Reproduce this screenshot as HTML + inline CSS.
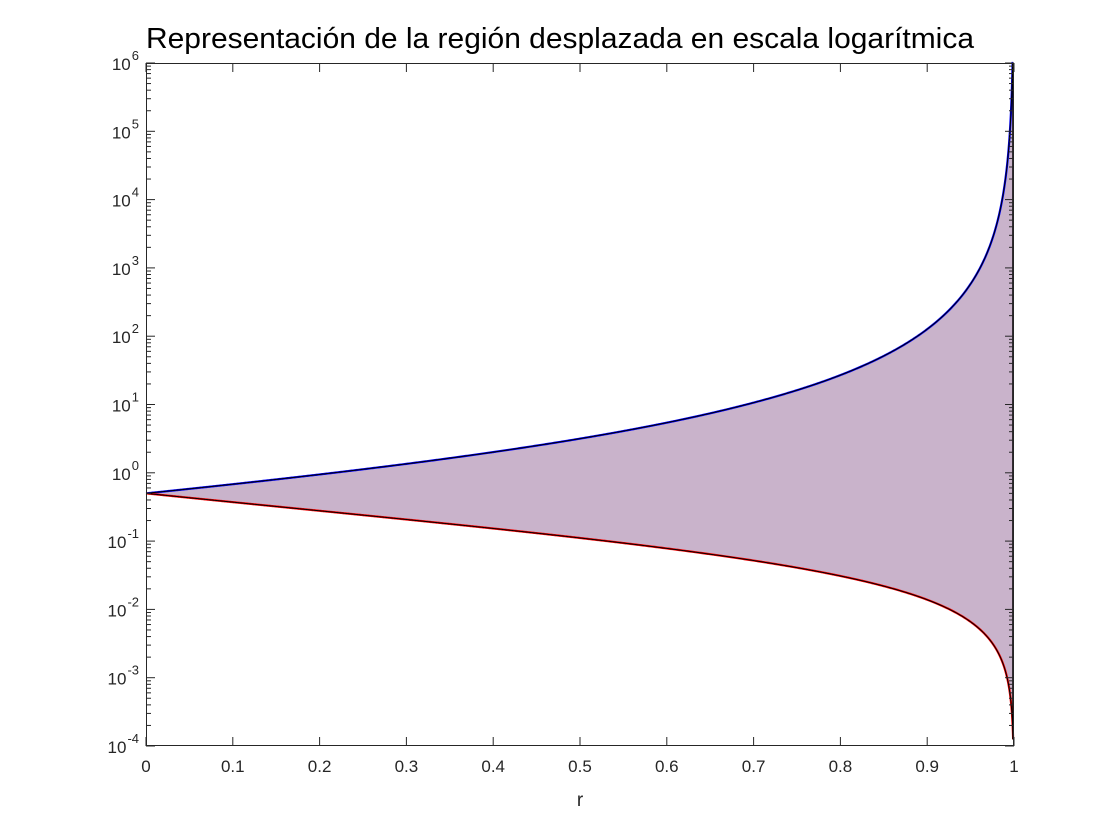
<!DOCTYPE html>
<html><head><meta charset="utf-8"><style>
html,body{margin:0;padding:0;background:#fff;}
svg{display:block;font-family:"Liberation Sans",Arial,sans-serif;}
</style></head><body>
<svg id="s" width="1120" height="840" viewBox="0 0 1120 840" xmlns="http://www.w3.org/2000/svg">
<rect width="1120" height="840" fill="#fff"/>
<text x="146" y="48" font-size="29" fill="#000" textLength="828" lengthAdjust="spacingAndGlyphs">Representación de la región desplazada en escala logarítmica</text>
<g id="plot"></g>
<g id="axes" stroke="#262626" stroke-width="1" fill="none"></g>
<g id="labels" font-size="17" fill="#262626"></g>
<text x="580" y="806" font-size="19" fill="#262626" text-anchor="middle">r</text>
</svg>
<script>
const L=146,R=1014,T=63,B=746;
const X=r=>L+(R-L)*r;
const Y=v=>B-(Math.log10(v)+4)/10*(B-T);
const ns="http://www.w3.org/2000/svg";
function el(t,a,p){const e=document.createElementNS(ns,t);for(const k in a)e.setAttribute(k,a[k]);p.appendChild(e);return e;}
const up=r=>0.5*Math.pow(1+r,0.84)/Math.pow(1-r,2.17);
const lo=r=>0.5*(1-r)/((1+r)*(1+r));
let rs=[];
for(let i=0;i<=900;i++)rs.push(i/1000);
for(let t=1;t<=3.0001;t+=0.01)rs.push(1-Math.pow(10,-t));
rs=rs.filter((v,i,a)=>i==0||v>a[i-1]);
const U=rs.map(r=>[X(r),Math.max(T,Y(up(r)))]);
const Lw=rs.map(r=>[X(r),Math.min(B,Y(lo(r)))]);
const pu=U.map(p=>p[0].toFixed(2)+","+p[1].toFixed(2)).join(" ");
const pl=Lw.map(p=>p[0].toFixed(2)+","+p[1].toFixed(2)).join(" ");
const plr=Lw.slice().reverse().map(p=>p[0].toFixed(2)+","+p[1].toFixed(2)).join(" ");
const g=document.getElementById("plot");
el("polygon",{points:pu+" "+plr,fill:"#c9b3cb",stroke:"none"},g);
el("polyline",{points:pu,fill:"none",stroke:"#0000ff","stroke-width":2.2},g);
el("polyline",{points:pl,fill:"none",stroke:"#ff0000","stroke-width":2.2},g);
el("polyline",{points:pu,fill:"none",stroke:"#000","stroke-width":1},g);
el("polyline",{points:pl,fill:"none",stroke:"#000","stroke-width":1},g);
el("line",{x1:1013,y1:T,x2:1013,y2:Y(lo(0.999)),stroke:"#000","stroke-width":1.5},g);
const a=document.getElementById("axes");
el("rect",{x:L+0.5,y:T+0.5,width:R-L-1,height:B-T-1},a);
const lb=document.getElementById("labels");
for(let i=0;i<=10;i++){
  const x=X(i/10);
  el("line",{x1:x,y1:B,x2:x,y2:B-9},a);
  el("line",{x1:x,y1:T,x2:x,y2:T+9},a);
  const t=el("text",{x:x,y:B+26,"text-anchor":"middle"},lb);
  t.textContent=i==0?"0":i==10?"1":"0."+i;
}
for(let e=-4;e<=6;e++){
  const y=Y(Math.pow(10,e));
  el("line",{x1:L,y1:y,x2:L+9,y2:y},a);
  el("line",{x1:R,y1:y,x2:R-9,y2:y},a);
  if(e<6)for(let m=2;m<=9;m++){
    const ym=Y(m*Math.pow(10,e));
    el("line",{x1:L,y1:ym,x2:L+5,y2:ym},a);
    el("line",{x1:R,y1:ym,x2:R-5,y2:ym},a);
  }
  const t=el("text",{x:L-10,y:y+7,"text-anchor":"end"},lb);
  t.textContent="10";
  const s=el("text",{x:L-10,y:y-3,"font-size":"13","text-anchor":"start"},lb);
  s.textContent=String(e);
}
[...lb.querySelectorAll("text")].forEach(t=>{
  if(t.getAttribute("font-size")=="13"){
    const w=t.getComputedTextLength();
    const x=L-7-w;
    t.setAttribute("x",x);
    t.previousSibling.setAttribute("x",x-1);
  }
});
</script>
</body></html>
